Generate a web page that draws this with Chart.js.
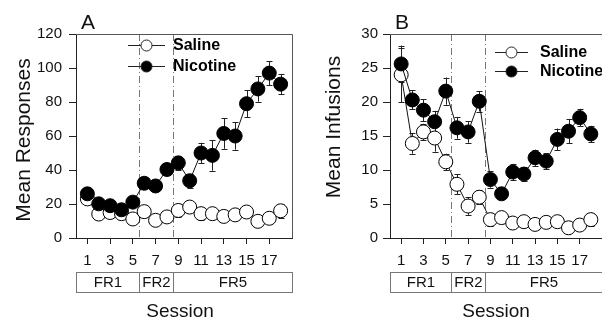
<!DOCTYPE html>
<html>
<head>
<meta charset="utf-8">
<script src="https://cdn.jsdelivr.net/npm/chart.js@4/dist/chart.umd.min.js"></script>
<style>
html,body{margin:0;padding:0;background:#fff;overflow:hidden;width:602px;height:322px;}
canvas{position:absolute;top:0;}
#cA{left:0;}
#cB{left:300px;}
</style>
</head>
<body>
<canvas id="cA" width="300" height="322"></canvas>
<canvas id="cB" width="310" height="322"></canvas>
<script>
const sessions = [1,2,3,4,5,6,7,8,9,10,11,12,13,14,15,16,17,18];
const xTickValues = [1,3,5,7,9,11,13,15,17];
const seriesNames = ['Saline','Nicotine'];
const phaseLabels = ['FR1','FR2','FR5'];
const phaseBounds = [0, 5.5, 8.5, 19];

const salineA = [23, 14.1, 15, 14.3, 11.2, 15.5, 10.4, 12.4, 16.2, 18.2, 14.3, 14.3, 12.7, 13.6, 15.3, 9.8, 11.6, 16];
const salineAErr = [3, 2, 2, 2, 2, 2, 2, 2, 4, 3, 4, 2, 2, 2, 2, 2, 2, 4];
const nicotineA = [26, 20.1, 19, 16.6, 21.1, 32.2, 30.6, 40.3, 44.2, 33.7, 50, 48.6, 61.5, 60, 79, 87.7, 97, 90.5];
const nicotineAErr = [3, 2, 2, 2, 2, 3, 3, 2, 4, 4, 6, 9, 9, 8, 8, 7.5, 7, 6];

const salineB = [24.0, 13.9, 15.6, 14.7, 11.2, 7.9, 4.7, 6.0, 2.7, 3.0, 2.2, 2.4, 2.0, 2.3, 2.4, 1.5, 1.9, 2.7];
const salineBErr = [4, 1.5, 1.2, 2, 1.2, 1.5, 1.3, 1, 1, 0.8, 0.7, 0.5, 0.5, 0.5, 0.5, 0.5, 0.5, 1];
const nicotineB = [25.6, 20.3, 18.8, 17.1, 21.6, 16.2, 15.6, 20.1, 8.6, 6.5, 9.7, 9.4, 11.8, 11.3, 14.5, 15.7, 17.7, 15.3];
const nicotineBErr = [2.7, 1.4, 1.6, 1.6, 2, 1.6, 1.6, 1.5, 1.2, 0.8, 1.2, 1, 1.2, 1.2, 1.6, 1.8, 1.3, 1.2];

const FONT = '"Liberation Sans", Arial, sans-serif';

function pts(vals){ return sessions.map((s,i)=>({x:s,y:vals[i]})); }

function makeChart(id, p){
  const decor = {
    id:'decor'+id,
    beforeDatasetsDraw(chart){
      const ctx = chart.ctx, xs = chart.scales.x, ys = chart.scales.y, ca = chart.chartArea;
      ctx.save();
      // phase dividers
      ctx.strokeStyle = '#777'; ctx.lineWidth = 1; ctx.setLineDash([7,3,1,3]);
      [phaseBounds[1], phaseBounds[2]].forEach(v=>{
        const x = Math.round(xs.getPixelForValue(v))+0.5;
        ctx.beginPath(); ctx.moveTo(x, ca.top); ctx.lineTo(x, ca.bottom); ctx.stroke();
      });
      ctx.setLineDash([]);
      // error bars
      ctx.strokeStyle = '#222'; ctx.lineWidth = 1;
      chart.data.datasets.forEach(ds=>{
        ds.data.forEach((pt,i)=>{
          const e = ds.err[i];
          const x = Math.round(xs.getPixelForValue(pt.x))+0.5;
          const yt = ys.getPixelForValue(pt.y+e), yb = ys.getPixelForValue(Math.max(0,pt.y-e));
          ctx.beginPath();
          ctx.moveTo(x,yt); ctx.lineTo(x,yb);
          ctx.moveTo(x-3,Math.round(yt)+0.5); ctx.lineTo(x+3,Math.round(yt)+0.5);
          ctx.moveTo(x-3,Math.round(yb)+0.5); ctx.lineTo(x+3,Math.round(yb)+0.5);
          ctx.stroke();
        });
      });
      ctx.restore();
    },
    afterDraw(chart){
      const ctx = chart.ctx, xs = chart.scales.x, ca = chart.chartArea;
      ctx.save();
      // top & right frame
      ctx.strokeStyle = '#555'; ctx.lineWidth = 1;
      ctx.beginPath();
      ctx.moveTo(ca.left, ca.top+0.5); ctx.lineTo(ca.right+0.5, ca.top+0.5); ctx.lineTo(ca.right+0.5, ca.bottom);
      ctx.stroke();
      // phase boxes
      const bt = 272.5, bb = 292.5;
      ctx.strokeStyle = '#777';
      ctx.font = '15px ' + FONT; ctx.fillStyle = '#111';
      ctx.textAlign = 'center'; ctx.textBaseline = 'middle';
      for (let k=0;k<phaseLabels.length;k++){
        const x0 = Math.round(xs.getPixelForValue(phaseBounds[k]))+0.5;
        const x1 = Math.round(xs.getPixelForValue(phaseBounds[k+1]))+0.5;
        ctx.strokeRect(x0, bt, x1-x0, bb-bt);
        ctx.fillText(phaseLabels[k], (x0+x1)/2, 283);
      }
      // Session label
      ctx.font = '19px ' + FONT; ctx.fillStyle = '#111';
      ctx.fillText('Session', p.sessionX, 312);
      // Panel letter
      ctx.font = '21px ' + FONT; ctx.textAlign = 'left'; ctx.textBaseline = 'alphabetic';
      ctx.fillText(p.letter, p.letterX, 29);
      // Y title
      ctx.save();
      ctx.translate(p.yTitleX, p.yTitleY); ctx.rotate(-Math.PI/2);
      ctx.font = '21px ' + FONT; ctx.textAlign = 'center'; ctx.textBaseline = 'alphabetic';
      ctx.fillText(p.yTitle, 0, 0);
      ctx.restore();
      // legend
      ctx.font = 'bold 16px ' + FONT; ctx.textBaseline = 'middle'; ctx.textAlign = 'left';
      [0,1].forEach(k=>{
        const y = p.legY[k];
        ctx.strokeStyle = '#222'; ctx.lineWidth = 1;
        ctx.beginPath(); ctx.moveTo(p.legX0, y+0.5); ctx.lineTo(p.legX1, y+0.5); ctx.stroke();
        ctx.beginPath(); ctx.arc((p.legX0+p.legX1)/2, y+0.5, 5.5, 0, Math.PI*2);
        ctx.fillStyle = k===0 ? '#fff' : '#000'; ctx.fill(); ctx.stroke();
        ctx.fillStyle = '#000';
        ctx.fillText(seriesNames[k], p.legText, y+1);
      });
      ctx.restore();
    }
  };

  return new Chart(document.getElementById(id), {
    type:'line',
    data:{
      datasets:[
        {label:seriesNames[1], data:pts(p.nic), err:p.nicErr, borderColor:'#111', borderWidth:1,
         pointRadius:7, pointHoverRadius:7, pointBackgroundColor:'#000', pointBorderColor:'#000', pointBorderWidth:1, tension:0, clip:false},
        {label:seriesNames[0], data:pts(p.sal), err:p.salErr, borderColor:'#111', borderWidth:1,
         pointRadius:7, pointHoverRadius:7, pointBackgroundColor:'#fff', pointBorderColor:'#000', pointBorderWidth:1, tension:0, clip:false}
      ]
    },
    options:{
      responsive:false, animation:false, devicePixelRatio:1,
      layout:{padding:{top:34, right:p.padRight, left:0, bottom:0}},
      plugins:{legend:{display:false}, tooltip:{enabled:false}, title:{display:false}},
      scales:{
        x:{type:'linear', min:0, max:19,
           afterBuildTicks(s){ s.ticks = xTickValues.map(v=>({value:v})); },
           afterFit(s){ s.height = 84; },
           grid:{drawOnChartArea:false, tickLength:6, color:'#222', tickWidth:1},
           border:{display:true, color:'#222', width:1},
           ticks:{font:{family:FONT, size:15}, color:'#111', padding:8, maxRotation:0, autoSkip:false}
        },
        y:{min:0, max:p.ymax,
           afterBuildTicks(s){ s.ticks = p.yTicks.map(v=>({value:v})); },
           afterFit(s){ s.width = p.yWidth; },
           grid:{drawOnChartArea:false, tickLength:7, color:'#222', tickWidth:1},
           border:{display:true, color:'#222', width:1},
           ticks:{font:{family:FONT, size:15}, color:'#111', padding:p.yPad}
        }
      }
    },
    plugins:[decor]
  });
}

makeChart('cA', {
  sal:salineA, salErr:salineAErr, nic:nicotineA, nicErr:nicotineAErr,
  ymax:120, yTicks:[0,20,40,60,80,100,120], yWidth:76, yPad:7, padRight:7,
  letter:'A', letterX:81, yTitle:'Mean Responses', yTitleX:30, yTitleY:140,
  sessionX:180, legY:[45,66], legX0:128, legX1:165, legText:173
});
makeChart('cB', {
  sal:salineB, salErr:salineBErr, nic:nicotineB, nicErr:nicotineBErr,
  ymax:30, yTicks:[0,5,10,15,20,25,30], yWidth:90, yPad:5, padRight:3,
  letter:'B', letterX:95, yTitle:'Mean Infusions', yTitleX:40, yTitleY:127,
  sessionX:196, legY:[52,71], legX0:195, legX1:228, legText:240
});
</script>
</body>
</html>
